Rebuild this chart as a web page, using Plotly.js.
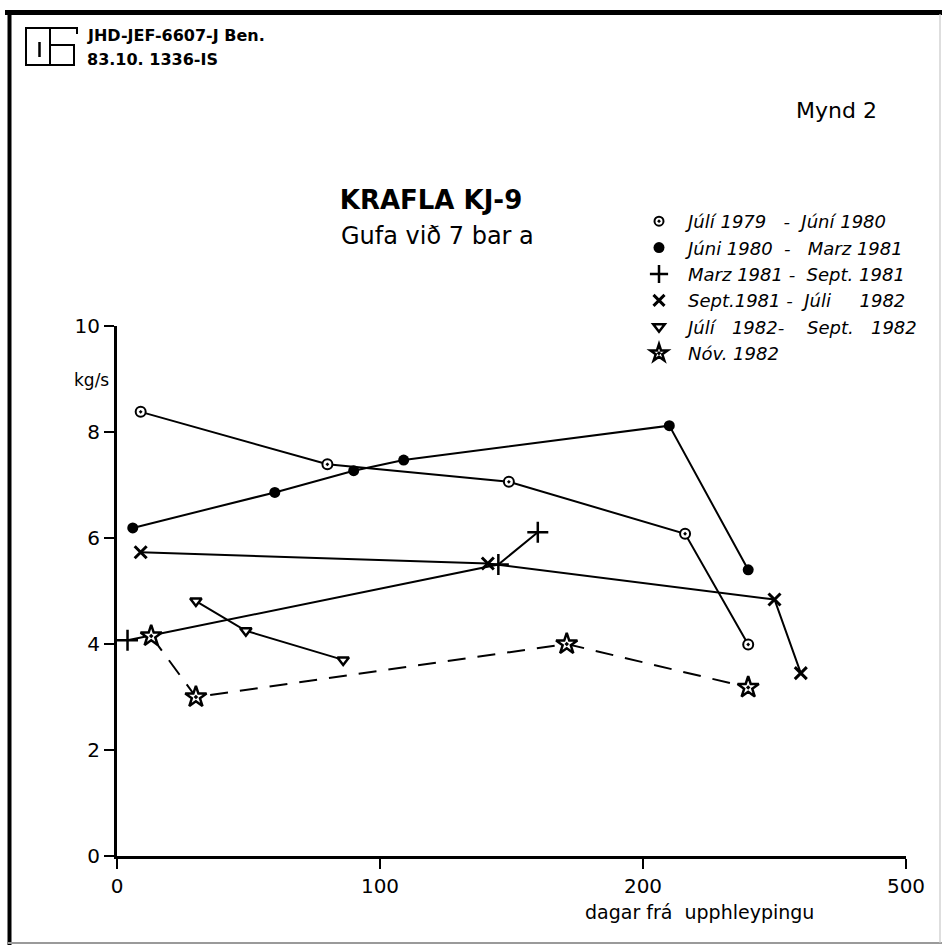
<!DOCTYPE html>
<html>
<head>
<meta charset="utf-8">
<script src="https://cdn.plot.ly/plotly-3.0.1.min.js"></script>
<style>html,body{margin:0;padding:0;background:#fff;}#chart{width:942px;height:947px;}</style>
</head>
<body>
<div id="chart"></div>
<script>
// ---- data (days since start, kg/s) ----
const seriesNames = [
  "Júlí 1979\u00a0\u00a0\u00a0-\u00a0\u00a0Júní 1980",
  "Júni 1980\u00a0\u00a0-\u00a0\u00a0\u00a0Marz 1981",
  "Marz 1981\u00a0-\u00a0\u00a0Sept. 1981",
  "Sept.1981\u00a0-\u00a0\u00a0Júli\u00a0\u00a0\u00a0\u00a0\u00a01982",
  "Júlí\u00a0\u00a0\u00a01982-\u00a0\u00a0\u00a0\u00a0Sept.\u00a0\u00a0\u00a01982",
  "Nóv.\u00a01982"
];
const julyX = [9, 80, 149, 216, 240];
const julyY = [8.38, 7.39, 7.06, 6.08, 3.99];
const juneX = [6, 60, 90, 109, 210, 240];
const juneY = [6.19, 6.86, 7.27, 7.47, 8.12, 5.40];
const marchX = [4, 145, 160];
const marchY = [4.07, 5.5, 6.11];
const septX = [9, 141, 250, 260];
const septY = [5.73, 5.52, 4.84, 3.45];
const july82X = [30, 49, 86];
const july82Y = [4.81, 4.25, 3.70];
const novX = [13, 30, 171, 240];
const novY = [4.15, 3.00, 4.00, 3.18];
const xTickVals = [0, 100, 200, 300];
const xTickText = ["0", "100", "200", "500"];
const yTickVals = [0, 2, 4, 6, 8, 10];
const yTickText = ["0", "2", "4", "6", "8", "10"];

// ---- layout geometry ----
const W = 942, H = 947, ML = 117, MR = 36, MT = 326, MB = 91;
const PW = W - ML - MR, PH = H - MT - MB;
const px = x => (x - ML) / PW;
const py = y => (H - MB - y) / PH;
const FONT = "DejaVu Sans";

const markerStyles = [
  {symbol: "circle-dot", size: 10, color: "white", line: {color: "black", width: 2}},
  {symbol: "circle", size: 11, color: "black", line: {color: "black", width: 0}},
  {symbol: "cross-thin", size: 15, color: "black", line: {color: "black", width: 2.5}},
  {symbol: "x-thin", size: 12, color: "black", line: {color: "black", width: 3}},
  {symbol: "triangle-down", size: 10, color: "white", line: {color: "black", width: 2.5}},
  {symbol: "star-dot", size: 16, color: "white", line: {color: "black", width: 2.5}}
];
const legendMarkerSizes = [9, 11, 13, 11, 10, 13];
const xs = [julyX, juneX, marchX, septX, july82X, novX];
const ys = [julyY, juneY, marchY, septY, july82Y, novY];

const traces = [];
for (let i = 0; i < 6; i++) {
  traces.push({
    x: xs[i], y: ys[i], type: "scatter", mode: "lines+markers",
    line: {color: "black", width: 2, dash: i === 5 ? "18px,12px" : "solid"},
    marker: markerStyles[i], showlegend: false, cliponaxis: false, hoverinfo: "skip"
  });
}
// legend entries (markers only)
for (let i = 0; i < 6; i++) {
  traces.push({
    x: [null], y: [null], type: "scatter", mode: "markers",
    name: seriesNames[i],
    marker: Object.assign({}, markerStyles[i], {size: legendMarkerSizes[i]}),
    showlegend: true
  });
}

const line = (x0, y0, x1, y1, w, c) => ({type: "line", xref: "paper", yref: "paper",
  x0: px(x0), y0: py(y0), x1: px(x1), y1: py(y1), line: {color: c || "black", width: w}});
const pathOf = pts => pts.map((p, k) => (k ? "L" : "M") + px(p[0]) + "," + py(p[1])).join(" ");

const shapes = [
  line(5, 12.5, 942, 12.5, 5),
  line(9.5, 10, 9.5, 945, 4),
  line(8, 943, 942, 943, 2, "#9a9a9a"),
  line(940, 14, 940, 943, 1.2, "#c8c8c8"),
  {type: "rect", xref: "paper", yref: "paper", x0: px(26), y0: py(28), x1: px(50), y1: py(65),
   line: {color: "black", width: 2}},
  line(39.5, 42, 39.5, 57, 2.5),
  {type: "path", xref: "paper", yref: "paper", path: pathOf([[50, 28], [77, 28], [77, 34]]),
   line: {color: "black", width: 2}},
  {type: "path", xref: "paper", yref: "paper", path: pathOf([[50, 45], [74, 45], [74, 65], [50, 65]]),
   line: {color: "black", width: 2}}
];

const ann = (text, x, y, size, opts) => Object.assign({
  text: text, xref: "paper", yref: "paper", x: px(x), y: py(y), showarrow: false,
  xanchor: "center", yanchor: "middle", font: {family: FONT, size: size, color: "black"}
}, opts || {});

const annotations = [
  ann("JHD-JEF-6607-J Ben.", 85, 35.5, 16, {xanchor: "left", font: {family: FONT, size: 16, color: "black", weight: "bold"}}),
  ann("83.10. 1336-IS", 85, 59, 16, {xanchor: "left", font: {family: FONT, size: 16, color: "black", weight: "bold"}}),
  ann("Mynd 2", 836, 110, 22),
  ann("Gufa við 7 bar a", 437, 236, 24),
  ann("kg/s", 91, 380, 17),
  ann("dagar frá  upphleypingu", 699, 912, 19)
];

const layout = {
  width: W, height: H,
  margin: {l: ML, r: MR, t: MT, b: MB, pad: 0, autoexpand: false},
  paper_bgcolor: "white", plot_bgcolor: "white",
  font: {family: FONT, color: "black"},
  title: {text: "KRAFLA KJ-9", xref: "container", yref: "container",
    x: 431 / W, y: 1 - 200 / H, xanchor: "center", yanchor: "middle",
    font: {family: FONT, size: 26, weight: "bold", color: "black"}},
  xaxis: {range: [0, 300], tickmode: "array", tickvals: xTickVals, ticktext: xTickText,
    ticks: "outside", ticklen: 10, tickwidth: 2.5, tickcolor: "black",
    showline: true, linecolor: "black", linewidth: 3, showgrid: false, zeroline: false,
    tickfont: {family: FONT, size: 20, color: "black"}, fixedrange: true, automargin: false},
  yaxis: {range: [0, 10], tickmode: "array", tickvals: yTickVals, ticktext: yTickText,
    ticks: "outside", ticklen: 10, tickwidth: 2.5, tickcolor: "black",
    showline: true, linecolor: "black", linewidth: 3, showgrid: false, zeroline: false,
    tickfont: {family: FONT, size: 20, color: "black"}, fixedrange: true, automargin: false},
  showlegend: true,
  legend: {xref: "container", yref: "container", x: 630 / W, y: 1 - 203 / H,
    xanchor: "left", yanchor: "top", bgcolor: "rgba(0,0,0,0)", borderwidth: 0,
    itemwidth: 48, traceorder: "normal",
    font: {family: FONT, size: 18, style: "italic", color: "black"}},
  shapes: shapes,
  annotations: annotations,
  hovermode: false
};

Plotly.newPlot("chart", traces, layout, {displayModeBar: false, staticPlot: true});
</script>
</body>
</html>
